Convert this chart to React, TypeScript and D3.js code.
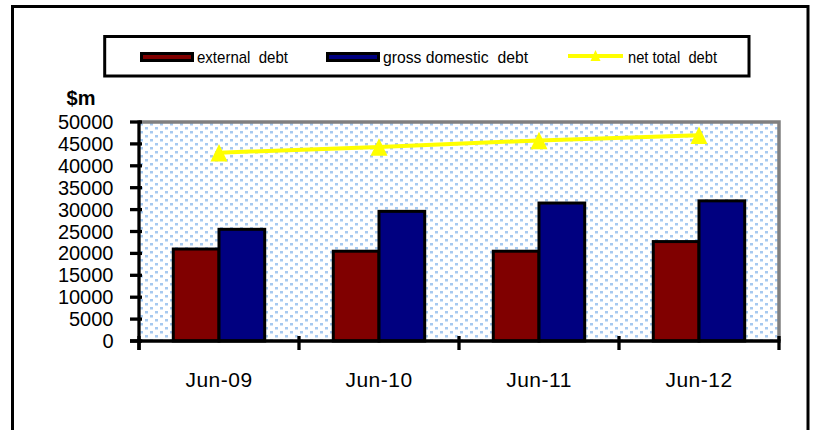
import React from "react";
import * as d3 from "d3";

const categories = ["Jun-09", "Jun-10", "Jun-11", "Jun-12"];
const externalDebt = [21000, 20500, 20500, 22700];
const grossDomesticDebt = [25500, 29600, 31500, 32000];
const netTotalDebt = [43000, 44300, 45800, 47000];
const yTicks = [0, 5000, 10000, 15000, 20000, 25000, 30000, 35000, 40000, 45000, 50000];
const seriesNames = ["external  debt", "gross domestic  debt", "net total  debt"];

const W = 814;
const H = 430;
const plot = { left: 139, right: 779, top: 122, bottom: 341 };
const FONT = "Arial, 'Liberation Sans', Helvetica, sans-serif";
const COLORS = { ext: "#800000", gross: "#000080", net: "#FFFF00" };

function triangle(cx: number, cy: number, w: number, h: number) {
  return `M${cx},${cy - h / 2}L${cx + w / 2},${cy + h / 2}L${cx - w / 2},${cy + h / 2}Z`;
}

export default function App() {
  const x = d3.scaleBand<string>().domain(categories).range([plot.left, plot.right]);
  const y = d3.scaleLinear().domain([0, 50000]).range([plot.bottom, plot.top]);
  const barW = x.bandwidth() / 3.5;
  const sub = d3.scaleBand<string>().domain(["ext", "gross"]).range([-barW, barW]);
  const cx = (c: string) => (x(c) as number) + x.bandwidth() / 2;

  const line = d3
    .line<number>()
    .x((_, i) => cx(categories[i]))
    .y((d) => y(d));

  const boundaries = d3.range(categories.length + 1).map((i) => plot.left + i * x.bandwidth());

  return (
    <svg
      width={W}
      height={H}
      style={{ position: "absolute", left: 0, top: 0, background: "#fff" }}
      fontFamily={FONT}
    >
      <defs>
        <pattern id="dots" width={10} height={8} patternUnits="userSpaceOnUse" x={plot.left} y={plot.top}>
          <rect width={10} height={8} fill="#ffffff" />
          <rect x={1} y={1} width={3} height={2.5} fill="#a6c9f0" />
          <rect x={6} y={5} width={3} height={2.5} fill="#a6c9f0" />
        </pattern>
      </defs>

      {/* outer border */}
      <rect x={12.5} y={6.5} width={795.5} height={440} fill="#fff" stroke="#000" strokeWidth={3} />

      {/* plot area */}
      <rect
        x={plot.left}
        y={plot.top}
        width={plot.right - plot.left}
        height={plot.bottom - plot.top}
        fill="url(#dots)"
      />
      <path
        d={`M${plot.left},${plot.top}H${plot.right}V${plot.bottom}`}
        fill="none"
        stroke="#808080"
        strokeWidth={3.5}
      />

      {/* bars */}
      {categories.map((c, i) => (
        <g key={c}>
          <rect
            x={cx(c) + (sub("ext") as number)}
            y={y(externalDebt[i])}
            width={sub.bandwidth()}
            height={y(0) - y(externalDebt[i])}
            fill={COLORS.ext}
            stroke="#000"
            strokeWidth={3}
          />
          <rect
            x={cx(c) + (sub("gross") as number)}
            y={y(grossDomesticDebt[i])}
            width={sub.bandwidth()}
            height={y(0) - y(grossDomesticDebt[i])}
            fill={COLORS.gross}
            stroke="#000"
            strokeWidth={3}
          />
        </g>
      ))}

      {/* axes */}
      <line x1={plot.left} x2={plot.left} y1={plot.top - 1.5} y2={plot.bottom + 9} stroke="#000" strokeWidth={3.3} />
      {yTicks.map((t) => (
        <g key={t}>
          <line x1={plot.left - 9} x2={plot.left + 3} y1={y(t)} y2={y(t)} stroke="#000" strokeWidth={3.3} />
          <text
            x={113.5}
            y={y(t)}
            textAnchor="end"
            dominantBaseline="central"
            fontSize={20}
            fill="#000"
          >
            {t}
          </text>
        </g>
      ))}
      <line x1={plot.left - 9} x2={plot.right + 1.5} y1={plot.bottom} y2={plot.bottom} stroke="#000" strokeWidth={3.3} />
      {boundaries.map((b, i) => (
        <line key={i} x1={b} x2={b} y1={plot.bottom - 5} y2={plot.bottom + 9} stroke="#000" strokeWidth={3.3} />
      ))}
      {categories.map((c) => (
        <text key={c} x={cx(c)} y={386.5} textAnchor="middle" fontSize={21} letterSpacing={0.5} fill="#000">
          {c}
        </text>
      ))}
      <text x={81} y={105} textAnchor="middle" fontSize={20} fontWeight="bold" fill="#000">
        $m
      </text>

      {/* net total debt line */}
      <path d={line(netTotalDebt) || ""} fill="none" stroke={COLORS.net} strokeWidth={4} />
      {netTotalDebt.map((v, i) => (
        <path key={i} d={triangle(cx(categories[i]), y(v), 17, 17.5)} fill={COLORS.net} />
      ))}

      {/* legend */}
      <rect x={104.7} y={36.5} width={644.3} height={39.5} fill="#fff" stroke="#000" strokeWidth={3} />
      <rect x={141.5} y={53.5} width={51} height={7} fill={COLORS.ext} stroke="#000" strokeWidth={3} />
      <text x={197} y={62.5} fontSize={17} fill="#000" xmlSpace="preserve" textLength={91} lengthAdjust="spacingAndGlyphs">
        {seriesNames[0]}
      </text>
      <rect x={327.5} y={53.5} width={51} height={7} fill={COLORS.gross} stroke="#000" strokeWidth={3} />
      <text x={383} y={62.5} fontSize={17} fill="#000" xmlSpace="preserve" textLength={145} lengthAdjust="spacingAndGlyphs">
        {seriesNames[1]}
      </text>
      <line x1={568} x2={623} y1={56} y2={56} stroke={COLORS.net} strokeWidth={4} />
      <path d={triangle(595.5, 55.5, 10, 11)} fill={COLORS.net} />
      <text x={628} y={62.5} fontSize={17} fill="#000" xmlSpace="preserve" textLength={89} lengthAdjust="spacingAndGlyphs">
        {seriesNames[2]}
      </text>
    </svg>
  );
}
